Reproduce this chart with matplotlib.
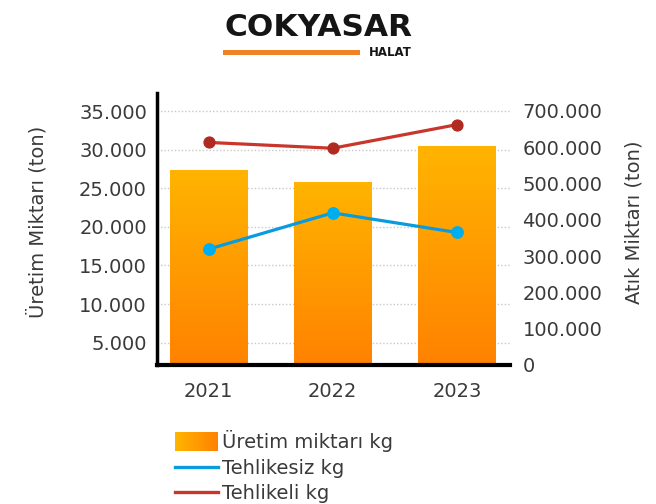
import numpy as np
import matplotlib
matplotlib.use("Agg")
import matplotlib.pyplot as plt
from matplotlib.lines import Line2D
from matplotlib.patches import Rectangle
from matplotlib.legend_handler import HandlerBase

years = ["2021", "2022", "2023"]
uretim = [27300, 25800, 30400]
tehlikesiz = [319000, 419000, 365000]
tehlikeli = [613000, 597000, 662000]

left_ticks = [5000, 10000, 15000, 20000, 25000, 30000, 35000]
right_ticks = [0, 100000, 200000, 300000, 400000, 500000, 600000, 700000]

TEXT = "#3a3a3a"
BAR_TOP = "#FFB400"
BAR_BOT = "#FF8200"
BLUE = "#0A9BDC"
BLUE_M = "#00AEEF"
RED = "#C8362C"
RED_M = "#B02A22"
FS = 14

plt.rcParams["font.family"] = ["DejaVu Sans"]


def fmt(v):
    return f"{int(v):,}".replace(",", ".")


W, H = 656, 504
fig = plt.figure(figsize=(W / 100, H / 100), dpi=100)
ax = fig.add_axes([0.2389, 0.2758, 0.5385, 0.5403])
ax2 = ax.twinx()

ax.set_xlim(-0.417, 2.427)
ax.set_ylim(2100, 37400)

x = np.arange(len(years))
bars = ax.bar(x, uretim, width=0.62, color=BAR_BOT, zorder=2)

# vertical gradient inside the visible part of each bar
grad = np.linspace(0, 1, 256).reshape(-1, 1)
cmap = matplotlib.colors.LinearSegmentedColormap.from_list("g", [BAR_BOT, BAR_TOP])
ymin = ax.get_ylim()[0]
for b in bars:
    x0, y0 = b.get_x(), max(b.get_y(), ymin)
    w, top = b.get_width(), b.get_y() + b.get_height()
    ax.imshow(grad, extent=[x0, x0 + w, y0, top], origin="lower",
              cmap=cmap, aspect="auto", zorder=2.1)
    b.set_visible(False)
ax.set_xlim(-0.417, 2.427)
ax.set_ylim(2100, 37400)

ax.set_yticks(left_ticks)
ax.set_yticklabels([fmt(v) for v in left_ticks])
ax.set_xticks(x)
ax.set_xticklabels(years)
ax.grid(axis="y", color="#c8c8c8", linestyle=(0, (1, 1.5)), linewidth=1.0, zorder=0)
ax.set_axisbelow(True)

ax2.plot(x, tehlikesiz, color=BLUE, lw=2.3, marker="o", ms=8.2,
         markerfacecolor=BLUE_M, markeredgecolor=BLUE_M, zorder=3)
ax2.plot(x, tehlikeli, color=RED, lw=2.3, marker="o", ms=7.8,
         markerfacecolor=RED_M, markeredgecolor=RED_M, zorder=3)
ax2.set_ylim(0, 750000)
ax2.set_yticks(right_ticks)
ax2.set_yticklabels([fmt(v) for v in right_ticks])

for a in (ax, ax2):
    for s in ("top", "right", "left", "bottom"):
        a.spines[s].set_visible(False)
ax.spines["left"].set_visible(True)
ax.spines["left"].set_linewidth(2.5)
ax.spines["left"].set_color("black")
ax.spines["bottom"].set_visible(True)
ax.spines["bottom"].set_linewidth(3)
ax.spines["bottom"].set_color("black")

ax.tick_params(axis="both", length=0, labelsize=FS, colors=TEXT)
ax.tick_params(axis="y", pad=7)
ax.tick_params(axis="x", pad=12)
ax2.tick_params(axis="y", length=0, labelsize=FS, colors=TEXT, pad=9)

fig.text(37 / W, 1 - 222 / H, "Üretim Miktarı (ton)", fontsize=FS, color=TEXT,
         rotation=90, ha="center", va="center")
fig.text(634 / W, 1 - 222 / H, "Atık Miktarı (ton)", fontsize=FS, color=TEXT,
         rotation=90, ha="center", va="center")


class GradientHandler(HandlerBase):
    def create_artists(self, legend, orig_handle, xd, yd, width, height, fontsize, trans):
        n = 20
        arts = []
        c0 = np.array(matplotlib.colors.to_rgb(BAR_TOP))
        c1 = np.array(matplotlib.colors.to_rgb(BAR_BOT))
        for i in range(n):
            t = i / (n - 1)
            r = Rectangle((xd + width * i / n, yd - 2), width / n + 0.3, height + 4,
                          facecolor=c0 * (1 - t) + c1 * t, edgecolor="none", transform=trans)
            arts.append(r)
        return arts


handles = [Rectangle((0, 0), 1, 1),
           Line2D([], [], color=BLUE, lw=2.4),
           Line2D([], [], color=RED, lw=2.4)]
labels = ["Üretim miktarı kg", "Tehlikesiz kg", "Tehlikeli kg"]
fig.legend(handles, labels, loc="upper left", bbox_to_anchor=(175 / W, 1 - 430 / H),
           frameon=False, fontsize=FS, handlelength=2.2, handletextpad=0.2,
           labelspacing=0.34, borderpad=0, borderaxespad=0, labelcolor=TEXT,
           handler_map={Rectangle: GradientHandler()})

# brand header
fig.text(318 / W, 1 - 27 / H, "COKYASAR", fontsize=22.5, fontweight="bold",
         color="#151515", ha="center", va="center")
fig.add_artist(Rectangle((223 / W, 1 - 55 / H), 137 / W, 5 / H,
                         transform=fig.transFigure, facecolor="#F08226", edgecolor="none"))
fig.text(412 / W, 1 - 53 / H, "HALAT", fontsize=8.5, fontweight="bold",
         color="#151515", ha="right", va="center")

fig.savefig("out.png", dpi=100)
